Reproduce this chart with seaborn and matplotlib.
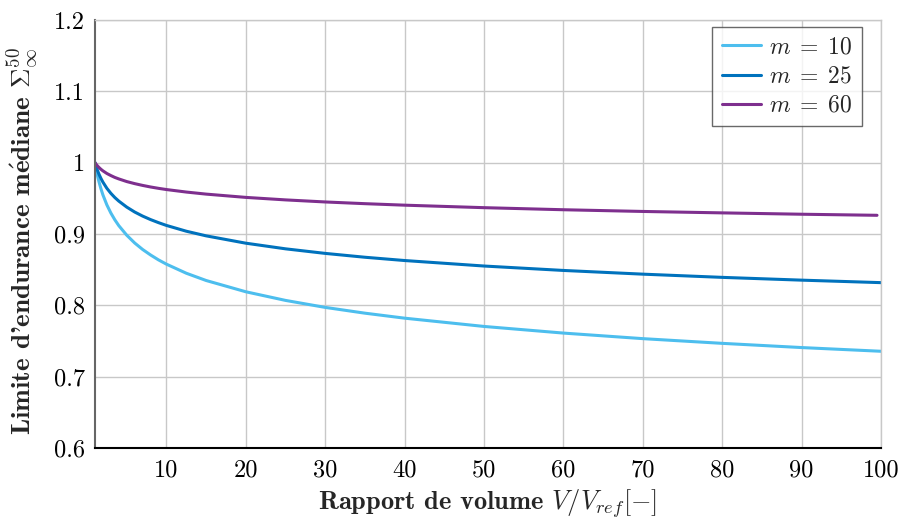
import pandas as pd
import matplotlib
matplotlib.use("Agg")
import matplotlib.pyplot as plt
import seaborn as sns

# values
x_light = [1, 1.05, 1.1, 1.2, 1.25, 1.35, 1.5, 1.75, 2, 2.5, 3, 3.5, 4, 5, 6, 7, 8, 9, 10, 12.5, 15,
           20, 25, 30, 35, 40, 50, 60, 70, 80, 90, 100]
y_m10 = [1.0, 0.9968, 0.9937, 0.9879, 0.9852, 0.9802, 0.9733, 0.9634, 0.9548, 0.9407, 0.9294, 0.9199,
         0.9117, 0.8983, 0.8874, 0.8783, 0.8706, 0.8637, 0.8577, 0.8450, 0.8348,
         0.8190, 0.8069, 0.7971, 0.7890, 0.7820, 0.7704, 0.7611, 0.7533, 0.7467, 0.7408, 0.7356]
y_m25 = [1.0, 0.9980, 0.9962, 0.9927, 0.9911, 0.9881, 0.9839, 0.9779, 0.9727, 0.9640, 0.9570, 0.9511,
         0.9461, 0.9377, 0.9308, 0.9251, 0.9202, 0.9159, 0.9120, 0.9039, 0.8974,
         0.8871, 0.8792, 0.8728, 0.8674, 0.8628, 0.8551, 0.8489, 0.8437, 0.8392, 0.8353, 0.8318]
x_m60 = [1, 1.05, 1.1, 1.2, 1.25, 1.35, 1.5, 1.75, 2, 2.5, 3, 3.5, 4, 5, 6, 7, 8, 9, 10, 12.5, 15,
         20, 25, 30, 35, 40, 50, 60, 70, 80, 90, 99.5]
y_m60 = [1.0, 0.9992, 0.9984, 0.9970, 0.9963, 0.9950, 0.9933, 0.9907, 0.9885, 0.9848, 0.9819, 0.9793,
         0.9772, 0.9735, 0.9706, 0.9681, 0.9659, 0.9640, 0.9623, 0.9588, 0.9559,
         0.9513, 0.9478, 0.9449, 0.9425, 0.9404, 0.9369, 0.9340, 0.9316, 0.9296, 0.9277, 0.9262]

labels = [r"$m\;=\;10$", r"$m\;=\;25$", r"$m\;=\;60$"]
colors = ["#4DBEEE", "#0072BD", "#7E2F8E"]
x_ticks = [10, 20, 30, 40, 50, 60, 70, 80, 90, 100]
y_ticks = [0.6, 0.7, 0.8, 0.9, 1.0, 1.1, 1.2]
y_ticklabels = ["0.6", "0.7", "0.8", "0.9", "1", "1.1", "1.2"]

df = pd.concat([
    pd.DataFrame({"V": x_light, "S": y_m10, "m": labels[0]}),
    pd.DataFrame({"V": x_light, "S": y_m25, "m": labels[1]}),
    pd.DataFrame({"V": x_m60, "S": y_m60, "m": labels[2]}),
], ignore_index=True)

sns.set_style("whitegrid")
plt.rcParams["font.family"] = ["cmr10", "DejaVu Serif"]
plt.rcParams["mathtext.fontset"] = "cm"
plt.rcParams["axes.formatter.use_mathtext"] = True

fig = plt.figure(figsize=(9.02, 5.19), dpi=100)
ax = fig.add_axes([0.1053, 0.1368, 0.8714, 0.8247])

sns.lineplot(data=df, x="V", y="S", hue="m", palette=colors, linewidth=2.2,
             sort=False, estimator=None, ax=ax)

ax.set_xlim(1, 100)
ax.set_ylim(0.6, 1.2)
ax.set_xticks(x_ticks)
ax.set_xticklabels([str(t) for t in x_ticks])
ax.set_yticks(y_ticks)
ax.set_yticklabels(y_ticklabels)
ax.tick_params(labelsize=17.5, length=4, direction="in", colors="#555555", labelcolor="black")
ax.tick_params(axis="x", pad=8)
ax.tick_params(axis="y", pad=7)
ax.grid(True, color="#c8c8c8", linewidth=1.0)

for side in ["top", "right"]:
    ax.spines[side].set_color("#c8c8c8")
    ax.spines[side].set_linewidth(1.0)
ax.spines["left"].set_color("#666666")
ax.spines["left"].set_linewidth(1.5)
ax.spines["bottom"].set_color("black")
ax.spines["bottom"].set_linewidth(1.5)

ax.set_xlabel(r"Rapport de volume $V/V_{ref}[-]$", fontsize=19, family="cmb10")
ax.set_ylabel(r"Limite d'endurance m$\mathbf{\acute{e}}$diane $\Sigma_\infty^{50}$",
              fontsize=19.5, family="cmb10")
ax.xaxis.set_label_coords(0.5, -0.090)
ax.yaxis.set_label_coords(-0.070, 0.485)

leg = ax.legend(loc="upper right", bbox_to_anchor=(0.9758, 0.9836), fontsize=17,
                frameon=True, fancybox=False, edgecolor="#444444",
                handlelength=1.65, handletextpad=0.35, borderaxespad=0.0,
                borderpad=0.4, labelspacing=0.3)
leg.get_frame().set_linewidth(1.0)
leg.set_title(None)

fig.savefig("out.png", dpi=100)
